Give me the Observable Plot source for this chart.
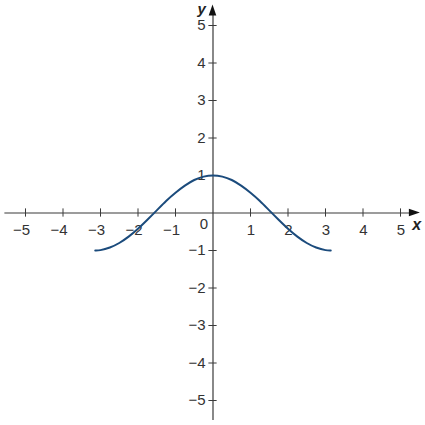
<!DOCTYPE html>
<html>
<head>
<meta charset="utf-8">
<script src="https://cdn.jsdelivr.net/npm/d3@7"></script>
<script src="https://cdn.jsdelivr.net/npm/@observablehq/plot@0.6"></script>
<style>
  html, body { margin: 0; padding: 0; background: #fff; }
</style>
</head>
<body>
<div id="chart"></div>
<script>
// Curve points
const curveX = [-3.14, -3.0, -2.75, -2.5, -2.25, -2.0, -1.75, -1.5, -1.25, -1.0, -0.75, -0.5, -0.25, 0,
                0.25, 0.5, 0.75, 1.0, 1.25, 1.5, 1.75, 2.0, 2.25, 2.5, 2.75, 3.0, 3.14];
const curveY = [-1.0, -0.99, -0.92, -0.80, -0.63, -0.42, -0.18, 0.07, 0.32, 0.54, 0.73, 0.88, 0.97, 1.0,
                0.97, 0.88, 0.73, 0.54, 0.32, 0.07, -0.18, -0.42, -0.63, -0.80, -0.92, -0.99, -1.0];
// Tick values and labels
const xTicks = [-5, -4, -3, -2, -1, 1, 2, 3, 4, 5];
const yTicks = [-5, -4, -3, -2, -1, 1, 2, 3, 4, 5];
const fmt = v => v < 0 ? "\u2212" + Math.abs(v) : String(v);

const curve = curveX.map((x, i) => ({x, y: curveY[i]}));

const axisColor = "#3a3a3a";
const labelColor = "#333";
const font = "Liberation Sans, Arial, sans-serif";
const fs = 15;

const plot = Plot.plot({
  width: 425,
  height: 425,
  marginLeft: 25,
  marginRight: 25,
  marginTop: 25,
  marginBottom: 25,
  x: {domain: [-5, 5], axis: null},
  y: {domain: [-5, 5], axis: null},
  style: {fontFamily: font, fontSize: "15px", background: "#fff"},
  marks: [
    // axes
    Plot.ruleY([0], {x1: -5.55, x2: 5.3, stroke: axisColor, strokeWidth: 1.2}),
    Plot.ruleX([0], {y1: -5.53, y2: 5.3, stroke: axisColor, strokeWidth: 1.2}),
    // tick marks
    Plot.ruleX(xTicks, {x: d => d, y1: -0.11, y2: 0.11, stroke: axisColor, strokeWidth: 1}),
    Plot.ruleY(yTicks, {y: d => d, x1: -0.11, x2: 0.11, stroke: axisColor, strokeWidth: 1}),
    // tick labels
    Plot.text(xTicks, {x: d => d, y: 0, text: fmt, textAnchor: "end", dx: 4.5, dy: 17,
      fontSize: fs, fontFamily: font, fill: labelColor}),
    Plot.text(yTicks, {x: 0, y: d => d, text: fmt, textAnchor: "end", dx: -7.5,
      fontSize: fs, fontFamily: font, fill: labelColor}),
    Plot.text([0], {x: 0, y: 0, text: ["0"], dx: -9, dy: 11, fontSize: fs, fontFamily: font, fill: labelColor}),
    // axis names
    Plot.text(["x"], {x: 5.43, y: -0.31, text: d => d, fontSize: 16, fontFamily: font, fontStyle: "italic",
      fontWeight: "bold", fill: "#222"}),
    Plot.text(["y"], {x: -0.3, y: 5.44, text: d => d, fontSize: 15, fontFamily: font, fontStyle: "italic",
      fontWeight: "bold", fill: "#222"}),
    // the curve
    Plot.line(curve, {x: "x", y: "y", curve: "natural", stroke: "#1b4b7c", strokeWidth: 2})
  ]
});

// arrowheads positioned through the plot's scales
const sx = plot.scale("x"), sy = plot.scale("y");
const X = v => sx.apply(v), Y = v => sy.apply(v);
const ns = "http://www.w3.org/2000/svg";
const x0 = X(0), y0 = Y(0);
const tipX = X(5.53), tipY = Y(5.55);
const heads = [
  `M${tipX},${y0} L${tipX - 11},${y0 - 3.8} L${tipX - 11},${y0 + 3.8} Z`,
  `M${x0},${tipY} L${x0 - 3.8},${tipY + 11} L${x0 + 3.8},${tipY + 11} Z`
];
for (const d of heads) {
  const p = document.createElementNS(ns, "path");
  p.setAttribute("d", d);
  p.setAttribute("fill", "#111");
  plot.appendChild(p);
}

document.getElementById("chart").appendChild(plot);
</script>
</body>
</html>
